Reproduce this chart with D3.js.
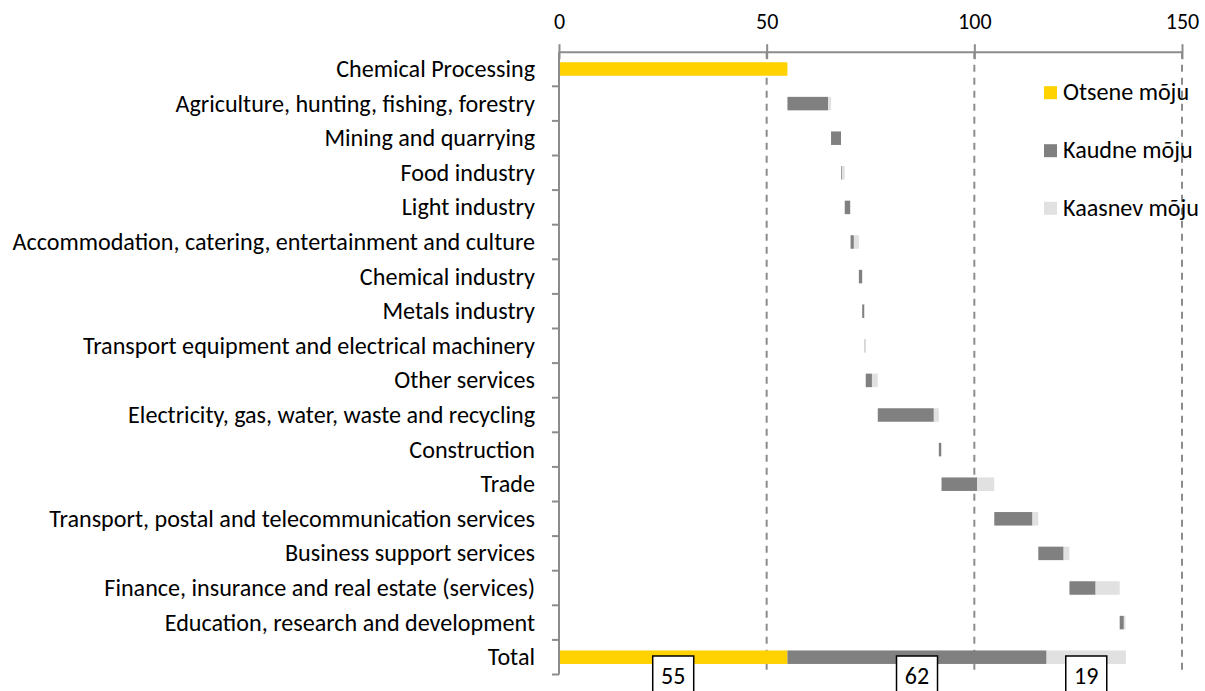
<!DOCTYPE html>
<html>
<head>
<meta charset="utf-8">
<script src="https://cdn.jsdelivr.net/npm/d3@7"></script>
<style>
  html, body { margin: 0; padding: 0; background: #fff; }
  svg { display: block; }
  text { font-family: Calibri, Carlito, Lato, "Noto Sans", sans-serif; fill: #000; }
</style>
</head>
<body>
<svg id="chart" width="1205" height="691"></svg>
<script>
// ---- data ----
const categories = [
  "Chemical Processing",
  "Agriculture, hunting, fishing, forestry",
  "Mining and quarrying",
  "Food industry",
  "Light industry",
  "Accommodation, catering, entertainment and culture",
  "Chemical industry",
  "Metals industry",
  "Transport equipment and electrical machinery",
  "Other services",
  "Electricity, gas, water, waste and recycling",
  "Construction",
  "Trade",
  "Transport, postal and telecommunication services",
  "Business support services",
  "Finance, insurance and real estate (services)",
  "Education, research and development",
  "Total"
];
const otsene  = [55, 0, 0, 0, 0, 0, 0, 0, 0, 0, 0, 0, 0, 0, 0, 0, 0, 55];
const kaudne  = [0, 9.8, 2.4, 0.2, 1.3, 0.8, 0.8, 0.5, 0.1, 1.5, 13.5, 0.6, 8.6, 9.2, 6.1, 6.3, 1.0, 62.4];
const kaasnev = [0, 0.7, 0, 0.7, 0.1, 1.2, 0, 0.1, 0.15, 1.4, 1.2, 0.05, 4.1, 1.4, 1.4, 5.8, 0.4, 19.1];
const seriesNames = ["Otsene mõju", "Kaudne mõju", "Kaasnev mõju"];
const seriesColors = ["#FFD200", "#808080", "#E1E1E1"];
const xTicks = [0, 50, 100, 150];
const totalLabels = ["55", "62", "19"];

// ---- layout ----
const svg = d3.select("#chart");
const plotTop = 51.7, plotBottom = 674.5;
const x = d3.scaleLinear().domain([0, 150]).range([559, 1182]);
const y = d3.scaleBand().domain(categories).range([plotTop, plotBottom])
  .paddingInner(0.61).paddingOuter(0.305);
const axisColor = "#8C8C8C";

// gridlines (dashed)
svg.append("g").selectAll("line")
  .data(xTicks.filter(d => d > 0))
  .join("line")
  .attr("x1", d => x(d)).attr("x2", d => x(d))
  .attr("y1", plotTop).attr("y2", plotBottom)
  .attr("stroke", axisColor).attr("stroke-width", 2)
  .attr("stroke-dasharray", "7,6");

// build stacked segments (waterfall)
const rows = categories.map((c, i) => ({ c, i, vals: [otsene[i], kaudne[i], kaasnev[i]] }));
let cum = 0;
const segs = [];
rows.forEach((r, i) => {
  const isTotal = (i === categories.length - 1);
  let s = isTotal ? 0 : cum;
  r.vals.forEach((v, k) => {
    if (v > 0) segs.push({ c: r.c, k, x0: s, x1: s + v });
    s += v;
  });
  if (!isTotal) cum = s;
});

svg.append("g").selectAll("rect")
  .data(segs)
  .join("rect")
  .attr("x", d => x(d.x0))
  .attr("width", d => Math.max(0.6, x(d.x1) - x(d.x0)))
  .attr("y", d => y(d.c))
  .attr("height", y.bandwidth())
  .attr("fill", d => seriesColors[d.k]);

// top axis
const xAxis = d3.axisTop(x).tickValues(xTicks).tickSize(0).tickPadding(0).tickFormat(d3.format("d"));
const gx = svg.append("g").attr("transform", `translate(0,${plotTop})`).call(xAxis);
gx.select(".domain").attr("stroke", axisColor).attr("stroke-width", 2);
gx.selectAll(".tick line").remove();
gx.selectAll(".tick").append("line")
  .attr("y1", -7.5).attr("y2", 7.5)
  .attr("stroke", axisColor).attr("stroke-width", 2);
gx.selectAll(".tick text")
  .attr("y", 28.5 - plotTop).attr("dy", 0)
  .style("font-family", "Calibri, Carlito, Lato, sans-serif")
  .style("font-size", "22px").attr("fill", "#000");

// left axis
const gy = svg.append("g").attr("transform", `translate(${x(0)},0)`);
gy.append("line").attr("x1", 0).attr("x2", 0).attr("y1", plotTop).attr("y2", plotBottom)
  .attr("stroke", axisColor).attr("stroke-width", 2);
const step = y.step();
gy.selectAll("line.tk")
  .data(d3.range(1, categories.length + 1))
  .join("line").attr("class", "tk")
  .attr("x1", -7).attr("x2", 0)
  .attr("y1", d => plotTop + d * step).attr("y2", d => plotTop + d * step)
  .attr("stroke", axisColor).attr("stroke-width", 2);

// category labels
const labG = svg.append("g");
const labs = labG.selectAll("text")
  .data(categories)
  .join("text")
  .attr("x", 535)
  .attr("y", d => y(d) + y.bandwidth() / 2 + 8)
  .attr("text-anchor", "end")
  .style("font-size", "24px")
  .text(d => d);
// fit font so that the longest label matches the reference width
let maxW = 0;
labs.each(function() { maxW = Math.max(maxW, this.getComputedTextLength()); });
const catSize = 24 * 523 / maxW;
labs.style("font-size", catSize + "px");

// legend
const legend = svg.append("g");
const legY = [92.7, 150.7, 208.3];
seriesNames.forEach((n, k) => {
  legend.append("rect").attr("x", 1044).attr("y", legY[k] - 6.5)
    .attr("width", 13).attr("height", 13).attr("fill", seriesColors[k]);
  legend.append("text").attr("x", 1063).attr("y", legY[k] + 7.5)
    .style("font-size", catSize + "px").text(n);
});

// total labels in boxes
const tot = categories.length - 1;
const totalSegs = segs.filter(d => d.c === categories[tot]);
const boxG = svg.append("g").selectAll("g")
  .data(totalSegs)
  .join("g")
  .attr("transform", d => `translate(${x((d.x0 + d.x1) / 2)},0)`);
boxG.append("rect")
  .attr("x", -20.5).attr("width", 41)
  .attr("y", 656).attr("height", 40)
  .attr("fill", "#fff").attr("stroke", "#000").attr("stroke-width", 1.5);
boxG.append("text")
  .attr("x", 0).attr("y", 684).attr("text-anchor", "middle")
  .style("font-size", "24px")
  .text((d, i) => totalLabels[i]);
</script>
</body>
</html>
